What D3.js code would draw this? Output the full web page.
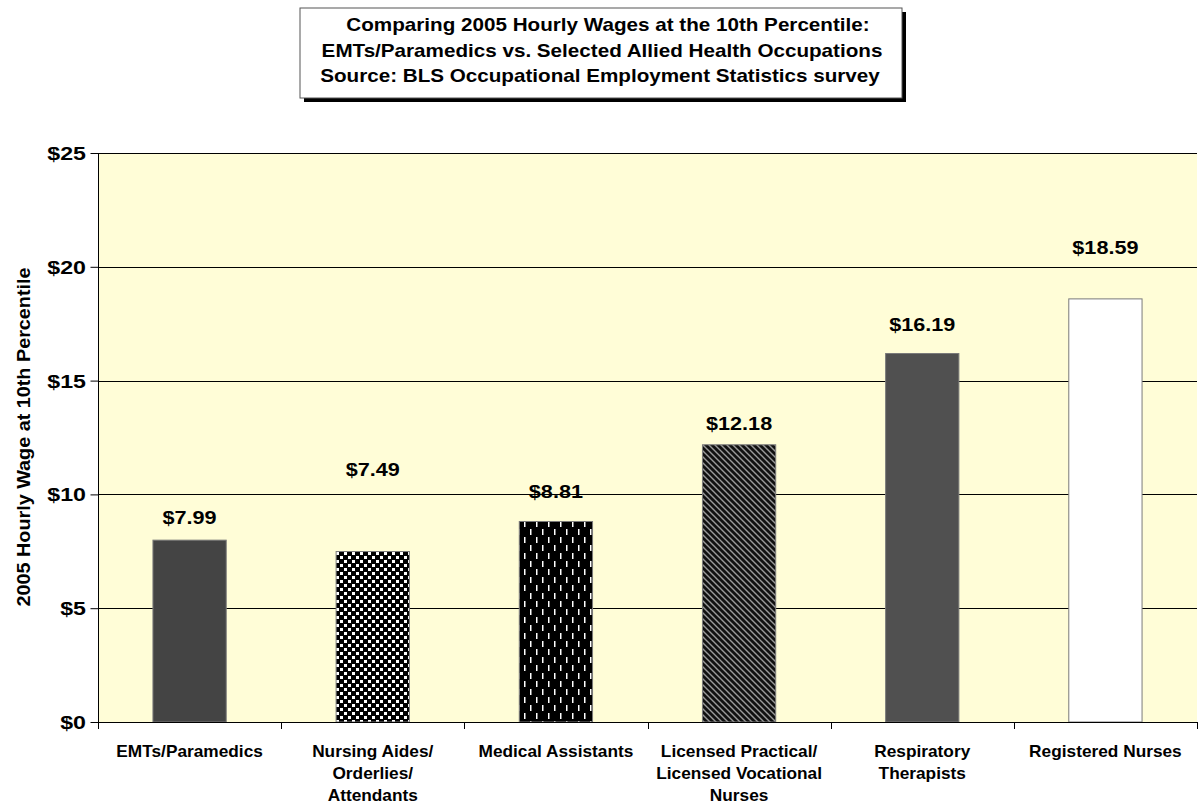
<!DOCTYPE html>
<html>
<head>
<meta charset="utf-8">
<script src="https://cdn.jsdelivr.net/npm/d3@7"></script>
<style>
  html, body { margin: 0; padding: 0; background: #ffffff; }
  svg text { font-family: "Liberation Sans", Arial, sans-serif; font-weight: bold; fill: #000; }
</style>
</head>
<body>
<svg id="chart" width="1201" height="804"></svg>
<script>
// ---- data ----
const categories = [
  ["EMTs/Paramedics"],
  ["Nursing Aides/", "Orderlies/", "Attendants"],
  ["Medical Assistants"],
  ["Licensed Practical/", "Licensed Vocational", "Nurses"],
  ["Respiratory", "Therapists"],
  ["Registered Nurses"]
];
const wages = [7.99, 7.49, 8.81, 12.18, 16.19, 18.59];
const valueLabels = ["$7.99", "$7.49", "$8.81", "$12.18", "$16.19", "$18.59"];
const yTicks = [0, 5, 10, 15, 20, 25];
const yTickLabels = ["$0", "$5", "$10", "$15", "$20", "$25"];
const titleLines = [
  "Comparing 2005 Hourly Wages at the 10th Percentile:",
  "EMTs/Paramedics vs. Selected Allied Health Occupations",
  "Source: BLS Occupational Employment Statistics survey"
];
const yAxisTitle = "2005 Hourly Wage at 10th Percentile";

// ---- layout ----
const svg = d3.select("#chart");
const plot = { left: 98, right: 1197, top: 153, bottom: 722 };

const x = d3.scaleBand()
  .domain(d3.range(categories.length))
  .range([plot.left, plot.right])
  .paddingInner(0.6).paddingOuter(0.3);
const band = d3.scaleBand().domain(d3.range(categories.length)).range([plot.left, plot.right]);
const y = d3.scaleLinear().domain([0, 25]).range([plot.bottom, plot.top]);

// text helper: horizontally stretched text
function addText(g, tx, ty, str, size, sx, anchor, rot) {
  return g.append("text")
    .attr("transform", `translate(${tx},${ty})${rot ? ` rotate(${rot})` : ""} scale(${sx},1)`)
    .attr("text-anchor", anchor || "middle")
    .attr("font-size", size)
    .text(str);
}

// ---- patterns ----
const defs = svg.append("defs");
const p1 = defs.append("pattern").attr("id", "pDots").attr("patternUnits", "userSpaceOnUse")
  .attr("width", 8).attr("height", 8);
p1.append("rect").attr("width", 8).attr("height", 8).attr("fill", "#000");
p1.append("rect").attr("x", 0).attr("y", 0).attr("width", 3).attr("height", 3).attr("fill", "#fff");
p1.append("rect").attr("x", 4).attr("y", 4).attr("width", 3).attr("height", 3).attr("fill", "#fff");
const p2 = defs.append("pattern").attr("id", "pDash").attr("patternUnits", "userSpaceOnUse")
  .attr("width", 12).attr("height", 16);
p2.append("rect").attr("width", 12).attr("height", 16).attr("fill", "#000");
p2.append("rect").attr("x", 2).attr("y", 1).attr("width", 1.5).attr("height", 6).attr("fill", "#fff");
p2.append("rect").attr("x", 8).attr("y", 9).attr("width", 1.5).attr("height", 6).attr("fill", "#fff");
const p3 = defs.append("pattern").attr("id", "pDiag").attr("patternUnits", "userSpaceOnUse")
  .attr("width", 6).attr("height", 6);
p3.append("rect").attr("width", 6).attr("height", 6).attr("fill", "#111");
p3.append("path").attr("d", "M-1,-1 L7,7 M-4,2 L4,10 M2,-4 L10,4")
  .attr("stroke", "#9a9a9a").attr("stroke-width", 1.4);

const fills = ["#444444", "url(#pDots)", "url(#pDash)", "url(#pDiag)", "#505050", "#ffffff"];

// ---- title box ----
const tb = { x: 300, y: 8, w: 602, h: 90 };
svg.append("rect").attr("x", tb.x + 4).attr("y", tb.y + 4).attr("width", tb.w).attr("height", tb.h).attr("fill", "#000");
svg.append("rect").attr("x", tb.x).attr("y", tb.y).attr("width", tb.w).attr("height", tb.h)
  .attr("fill", "#fff").attr("stroke", "#555").attr("stroke-width", 1);
const gTitle = svg.append("g");
const titleDx = [7, 1, -1];
titleLines.forEach((s, i) => addText(gTitle, tb.x + tb.w / 2 + titleDx[i], 31 + i * 25.5, s, 17.5, 1.18, "middle"));

// ---- plot background ----
svg.append("rect").attr("x", plot.left).attr("y", plot.top)
  .attr("width", plot.right - plot.left).attr("height", plot.bottom - plot.top)
  .attr("fill", "#FFFDD7");

// gridlines
svg.append("g").selectAll("line").data(yTicks.filter(t => t > 0)).join("line")
  .attr("x1", plot.left).attr("x2", plot.right)
  .attr("y1", d => Math.round(y(d)) + 0.5).attr("y2", d => Math.round(y(d)) + 0.5)
  .attr("stroke", "#000").attr("stroke-width", 1);

// ---- bars ----
svg.append("g").selectAll("rect").data(wages).join("rect")
  .attr("x", (d, i) => x(i))
  .attr("y", d => y(d))
  .attr("width", x.bandwidth())
  .attr("height", d => y(0) - y(d))
  .attr("fill", (d, i) => fills[i])
  .attr("stroke", "#7a7a7a").attr("stroke-width", 1);

// value labels (lift above bar top in px)
const labelLift = [16, 76, 23, 15, 23, 45];
const gVal = svg.append("g");
wages.forEach((d, i) => addText(gVal, x(i) + x.bandwidth() / 2, y(d) - labelLift[i], valueLabels[i], 18.5, 1.17, "middle"));

// ---- y axis ----
const yAxis = d3.axisLeft(y).tickValues(yTicks).tickFormat("").tickSize(8);
const gy = svg.append("g").attr("transform", `translate(${plot.left + 0.5},0)`).call(yAxis);
gy.select(".domain").attr("stroke", "#000").attr("d", `M0,${plot.top}V${plot.bottom}`);
gy.selectAll(".tick line").attr("stroke", "#000");
const gyl = svg.append("g");
yTicks.forEach((t, i) => addText(gyl, 86, y(t) + 7, yTickLabels[i], 19, 1.22, "end"));

// ---- x axis ----
svg.append("line").attr("x1", plot.left).attr("x2", plot.right)
  .attr("y1", plot.bottom + 0.5).attr("y2", plot.bottom + 0.5).attr("stroke", "#000");
svg.append("g").selectAll("line").data(d3.range(categories.length + 1)).join("line")
  .attr("x1", d => Math.round(d < categories.length ? band(d) : plot.right) + 0.5)
  .attr("x2", d => Math.round(d < categories.length ? band(d) : plot.right) + 0.5)
  .attr("y1", plot.bottom).attr("y2", plot.bottom + 7)
  .attr("stroke", "#000");

const gCat = svg.append("g");
categories.forEach((lines, i) => {
  const t = gCat.append("text")
    .attr("transform", `translate(${band(i) + band.bandwidth() / 2},757) scale(1.08,1)`)
    .attr("text-anchor", "middle")
    .attr("font-size", 16);
  lines.forEach((s, j) => t.append("tspan").attr("x", 0).attr("dy", j === 0 ? 0 : 22).text(s));
});

// ---- y axis title ----
addText(svg, 30, 437, yAxisTitle, 18, 1.1, "middle", -90);
</script>
</body>
</html>
